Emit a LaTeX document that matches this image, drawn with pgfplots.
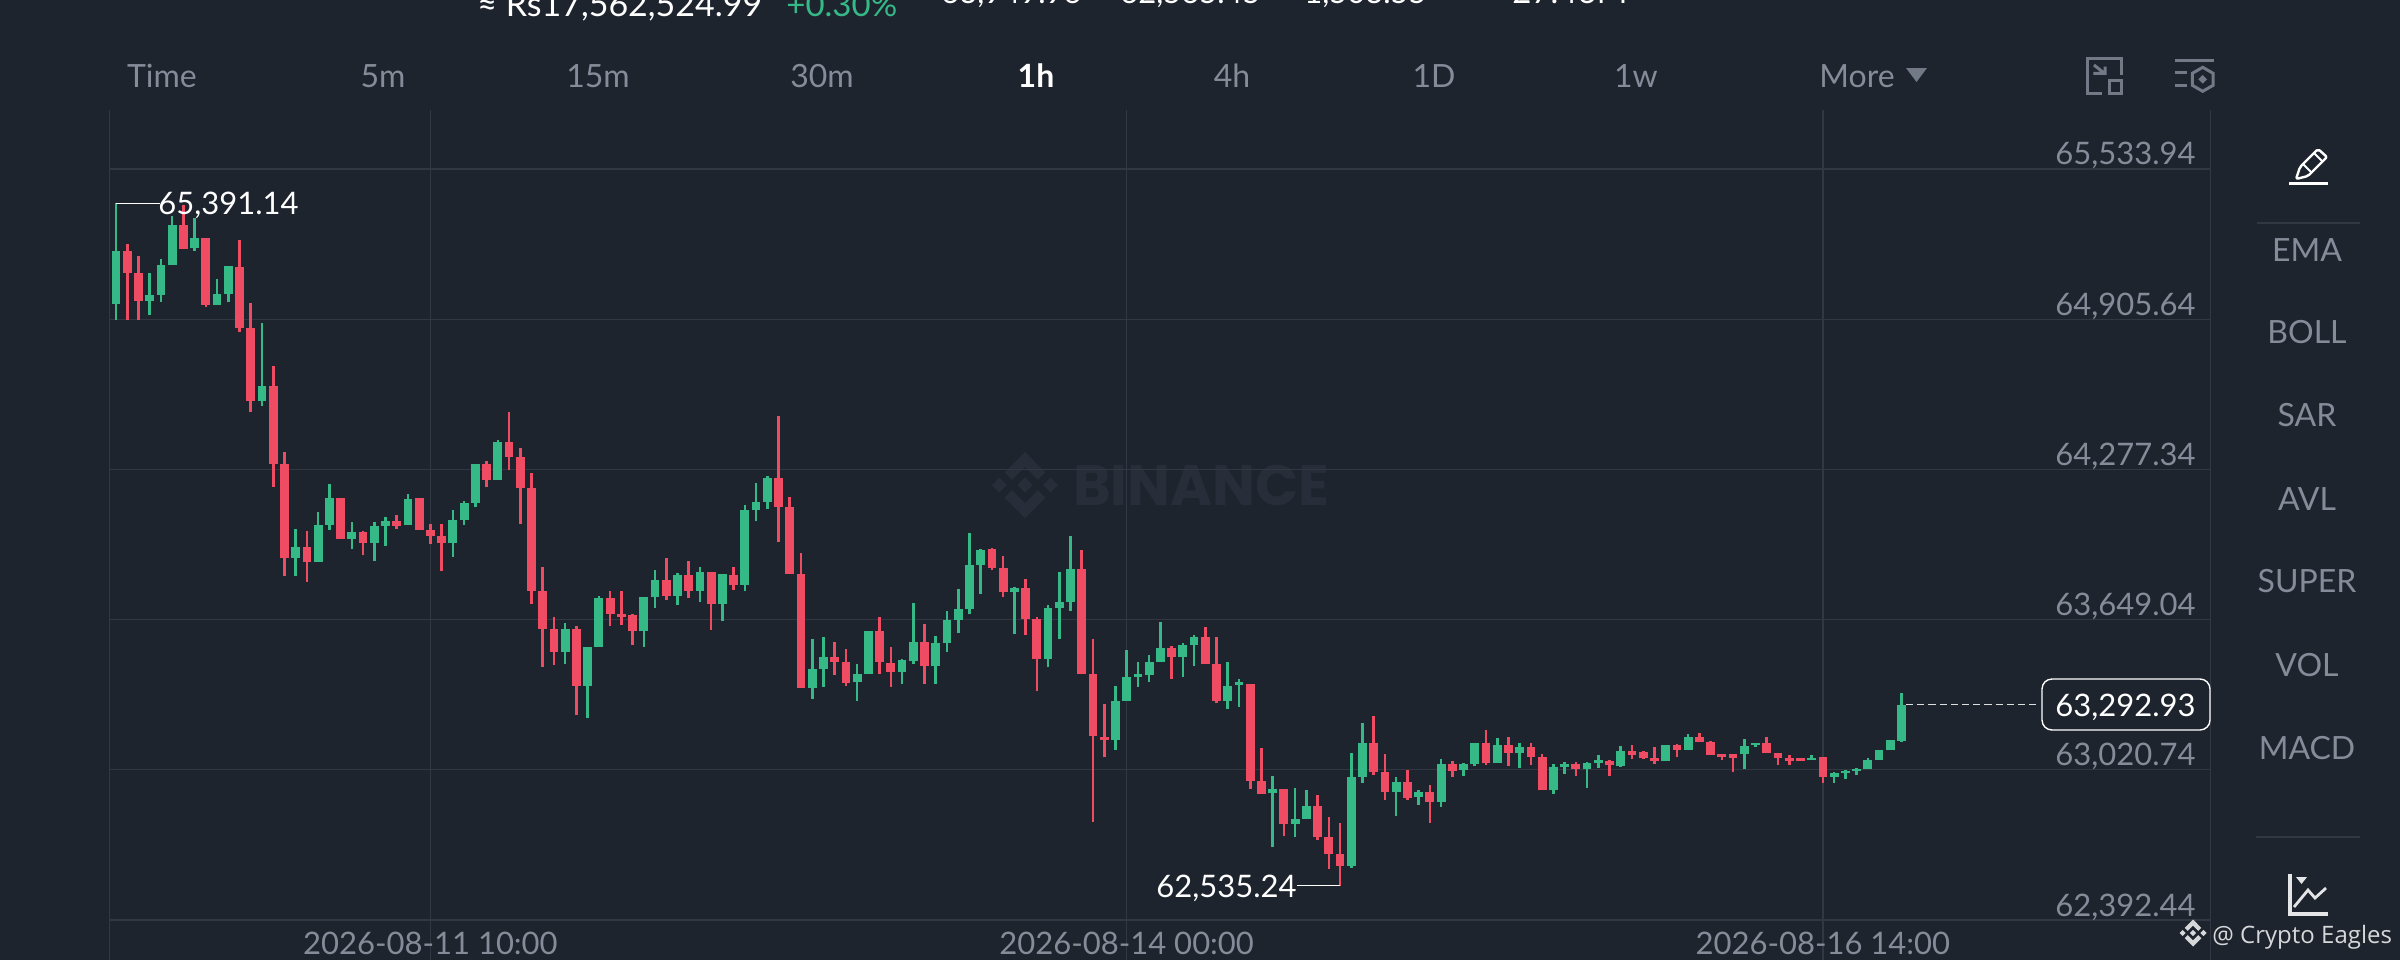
\documentclass[border=0pt]{standalone}
\usepackage{fontspec}
\usepackage{pgfplots}
\usepackage{pgfplotstable}
\pgfplotsset{compat=1.18}
\setmainfont{Lato}
\newfontfamily\tagfont{Open Sans}
\newfontfamily\wmfont{Poppins}
\definecolor{bg}{HTML}{1E242E}
\definecolor{gridc}{HTML}{323843}
\definecolor{gr}{HTML}{34B987}
\definecolor{rd}{HTML}{EF4B63}
\definecolor{txt}{HTML}{848C99}
\definecolor{ico}{HTML}{737A87}
\definecolor{wm}{HTML}{272E39}
\newcommand\fs[1]{\fontsize{#1}{#1}\selectfont}
% i open high low close
\pgfplotstableread{
i o h l c
0 64968 65391.14 64902 65191
3 64983 65100 64923 65007
4 65007 65157 64979 65134
5 65132 65337 65132 65300
7 65202 65329 65192 65244
9 64965 65075 64965 65012
10 65012 65128 64976 65128
13 64562 64888 64544 64626
16 63905 64027 63831 63951
18 63889 64101 63889 64045
19 64045 64215 64024 64156
21 63988 64056 63943 64017
23 63971 64056 63896 64041
24 64041 64080 63958 64063
26 64045 64174 64045 64155
30 63971 64108 63912 64066
31 64066 64147 64045 64138
32 64138 64300 64121 64300
34 64233 64400 64233 64391
40 63515 63633 63463 63610
42 63373 63536 63236 63536
43 63536 63748 63536 63741
47 63600 63745 63536 63744
48 63742 63856 63699 63813
50 63749 63845 63710 63836
52 63770 63868 63724 63849
54 63713 63838 63645 63838
56 63794 64130 63769 64109
57 64109 64219 64060 64141
58 64142 64250 64113 64240
62 63364 63569 63315 63441
63 63441 63578 63368 63493
66 63388 63463 63309 63420
67 63420 63600 63420 63600
70 63431 63483 63378 63480
71 63477 63717 63462 63557
73 63456 63582 63380 63550
74 63550 63686 63513 63647
75 63647 63778 63592 63693
76 63693 64010 63671 63877
77 63877 63943 63756 63942
80 63766 63787 63587 63783
83 63484 63709 63449 63699
84 63698 63850 63566 63724
85 63724 63999 63686 63859
89 63144 63370 63104 63310
90 63310 63520 63310 63407
91 63409 63473 63369 63420
92 63417 63500 63389 63473
93 63473 63640 63473 63529
95 63491 63552 63410 63541
96 63541 63586 63456 63578
99 63310 63470 63276 63371
100 63374 63399 63285 63387
103 62922 62996 62699 62939
105 62794 62945 62738 62815
106 62814 62936 62814 62869
110 62618 63090 62611 62991
111 62991 63215 62967 63133
114 62929 62992 62829 62968
116 62908 62936 62873 62929
118 62886 63066 62866 63045
120 63020 63051 62995 63045
121 63045 63134 63037 63134
123 63051 63152 63051 63123
125 63090 63134 63028 63116
128 62935 63045 62921 63031
129 63031 63052 63002 63046
131 63024 63055 62946 63051
132 63051 63081 63030 63062
134 63038 63120 63034 63101
138 63057 63126 63057 63126
140 63104 63170 63104 63159
145 63085 63151 63024 63122
146 63123 63134 63115 63134
151 63060 63081 63060 63071
153 62992 63011 62967 63006
154 63009 63020 62981 63017
155 63016 63027 62998 63024
156 63023 63069 63023 63062
157 63060 63104 63060 63102
158 63102 63145 63102 63145
159 63143 63341 63137 63292.93
}\up
\pgfplotstableread{
i o h l c
1 65191 65220 64902 65100
2 65100 65170 64902 64983
6 65300 65383 65198 65201
8 65247 65247 64958 64965
11 65125 65237 64851 64870
12 64870 64972 64516 64564
14 64626 64711 64205 64300
15 64300 64352 63831 63905
17 63951 64021 63805 63889
20 64159 64159 63988 63988
22 64016 64020 63918 63971
25 64063 64085 64030 64041
27 64156 64156 64024 64024
28 64024 64049 63965 64000
29 64000 64049 63852 63971
33 64300 64313 64202 64233
35 64391 64516 64275 64331
36 64331 64365 64049 64201
37 64201 64264 63714 63770
38 63770 63868 63452 63610
39 63610 63658 63459 63515
41 63608 63624 63250 63373
44 63738 63769 63622 63674
45 63672 63769 63626 63661
46 63668 63671 63543 63600
49 63813 63908 63731 63749
51 63836 63894 63741 63770
53 63849 63849 63605 63713
55 63837 63868 63773 63794
59 64240 64501 63975 64120
60 64120 64160 63840 63840
61 63840 63926 63364 63364
64 63493 63555 63416 63472
65 63472 63525 63373 63385
68 63601 63661 63421 63470
69 63469 63536 63368 63431
72 63557 63631 63381 63456
78 63943 63947 63855 63866
79 63865 63915 63742 63766
81 63783 63817 63585 63650
82 63650 63658 63349 63484
86 63859 63940 63420 63420
87 63420 63566 62801 63162
88 63159 63295 63073 63144
94 63530 63540 63401 63491
97 63575 63618 63465 63465
98 63465 63576 63302 63307
101 63380 63380 62940 62974
102 62974 63110 62919 62919
104 62939 62939 62744 62794
107 62869 62914 62727 62741
108 62741 62822 62604 62669
109 62669 62797 62535.24 62620
112 63133 63246 62999 63013
113 63013 63088 62894 62929
115 62968 63020 62894 62904
117 62929 62956 62800 62887
119 63045 63059 62992 63017
122 63134 63187 63041 63048
124 63123 63157 63038 63090
126 63116 63134 63041 63076
127 63076 63085 62935 62935
130 63046 63055 62996 63024
133 63059 63060 62996 63041
135 63101 63124 63064 63083
136 63097 63101 63064 63069
137 63071 63115 63044 63057
139 63126 63127 63076 63104
141 63159 63175 63136 63136
142 63136 63141 63084 63084
143 63085 63085 63062 63073
144 63085 63085 63011 63071
147 63131 63159 63090 63090
148 63091 63092 63039 63070
149 63070 63084 63042 63059
150 63070 63070 63056 63056
152 63073 63073 62967 62992
}\down
\newcommand\binlogo[4]{%
\begin{scope}[shift={(#1,#2)},x=#3,y=-#3,shift={(-63.3,-63.3)}]
\fill[#4] (38.73,53.2)--(63.3,28.63)--(87.9,53.22)--(102.2,38.92)--(63.3,0)--(24.42,38.9)--cycle;
\fill[#4] (0,63.31)--(14.3,49.01)--(28.6,63.31)--(14.3,77.61)--cycle;
\fill[#4] (38.73,73.41)--(63.3,97.98)--(87.9,73.39)--(102.2,87.69)--(63.3,126.61)--(24.42,87.72)--cycle;
\fill[#4] (98,63.31)--(112.3,49.01)--(126.6,63.31)--(112.3,77.61)--cycle;
\fill[#4] (77.82,63.3)--(63.3,48.78)--(48.78,63.3)--(63.3,77.81)--cycle;
\end{scope}}
\begin{document}
\begin{tikzpicture}[x=0.5pt,y=-0.5pt]
\clip (0,0) rectangle (2400,960);
\fill[bg] (0,0) rectangle (2400,960);
% watermark
\binlogo{1025}{485}{0.2607pt}{wm}
\node[anchor=west,inner sep=0,text=wm,font={\wmfont\bfseries\fs{28.5}}] at (1073,485) {BINANCE};
\begin{axis}[
  at={(54.65pt,-480pt)},anchor=south west,scale only axis,
  width=1050.7pt,height=425pt,
  xmin=-0.597,xmax=186.53,ymin=62225.12,ymax=65780.75,
  axis line style={draw=none},
  scaled y ticks=false,scaled x ticks=false,
  major tick length=0pt,tick style={draw=none},
  grid=major,major grid style={draw=gridc,line width=0.6pt},
  xtick={28,90,152},
  xticklabels={{2026-08-11 10:00},{2026-08-14 00:00},{2026-08-16 14:00}},
  xticklabel style={anchor=base,inner sep=0pt,yshift=3pt,text=txt,font=\fs{15.5}},
  ytick={62392.44,63020.74,63649.04,64277.34,64905.64,65533.94},
  yticklabels={{62,392.44},{63,020.74},{63,649.04},{64,277.34},{64,905.64},{65,533.94}},
  yticklabel pos=right,
  yticklabel style={anchor=base east,inner sep=0pt,xshift=-7.35pt,yshift=2pt,text=txt,font=\fs{15.5}},
]
% wicks
\addplot[draw=none,forget plot,error bars/.cd,y dir=plus,y explicit,error mark=none,error bar style={draw=gr,line width=1.3pt,solid}]
  table[x=i,y=l,y error plus expr=\thisrow{h}-\thisrow{l}] {\up};
\addplot[draw=none,forget plot,error bars/.cd,y dir=plus,y explicit,error mark=none,error bar style={draw=rd,line width=1.3pt,solid}]
  table[x=i,y=l,y error plus expr=\thisrow{h}-\thisrow{l}] {\down};
% bodies
\addplot[draw=none,forget plot,error bars/.cd,y dir=plus,y explicit,error mark=none,error bar style={draw=gr,line width=4.4pt,solid}]
  table[x=i,y=o,y error plus expr=\thisrow{c}-\thisrow{o}] {\up};
\addplot[draw=none,forget plot,error bars/.cd,y dir=plus,y explicit,error mark=none,error bar style={draw=rd,line width=4.4pt,solid}]
  table[x=i,y=c,y error plus expr=\thisrow{o}-\thisrow{c}] {\down};
% high / low connectors and last price
\addplot[white,line width=0.6pt,forget plot] coordinates {(0,65391.14)(3.9,65391.14)};
\addplot[white,line width=0.6pt,forget plot] coordinates {(109,62535.24)(105.2,62535.24)};
\addplot[color=white!85!bg,line width=0.7pt,dash pattern=on 3.6pt off 2pt,forget plot] coordinates {(159.4,63292.93)(171.3,63292.93)};
\end{axis}
% frame lines
\draw[gridc,line width=0.6pt] (109.3,110)--(109.3,960) (2210.7,110)--(2210.7,960);
% extreme labels
\node[anchor=base west,inner sep=0,white,font=\fs{15.5}] at (158,214) {65,391.14};
\node[anchor=base east,inner sep=0,white,font=\fs{15.5}] at (1297,897) {62,535.24};
% last price
\draw[white,line width=0.7pt,fill=bg,rounded corners=5pt] (2042,679) rectangle (2210,730);
\node[anchor=base east,inner sep=0,white,font=\fs{15.5}] at (2196,716) {63,292.93};
% clipped header
\node[anchor=base west,inner sep=0,white,font=\fs{17}] at (477,16) {≈ Rs17,562,524.99};
\node[anchor=base west,inner sep=0,gr,font=\fs{16.5}] at (786,16) {+0.30\%};
\node[anchor=base west,inner sep=0,white,font=\fs{15.5}] at (941,3.5) {63,949.96};
\node[anchor=base west,inner sep=0,white,font=\fs{15.5}] at (1120,3.5) {62,565.45};
\node[anchor=base west,inner sep=0,white,font=\fs{15.5}] at (1304,3.5) {1,503.55};
\node[anchor=base west,inner sep=0,white,font=\fs{16.5}] at (1512,3.5) {27.46M};
% toolbar
\foreach \xx/\tt in {162/Time,383/5m,598/15m,822/30m,1232/4h,1434/1D,1636/1w,1857/More}
  \node[anchor=base,inner sep=0,text=txt,font=\fs{16}] at (\xx,87) {\tt};
\node[anchor=base,inner sep=0,white,font=\bfseries\fs{16}] at (1036,87) {1h};
\fill[ico] (1906,68)--(1927,68)--(1916.5,82)--cycle;
% icon: screen
\draw[ico,line width=1.5pt] (2102,93)--(2087.3,93)--(2087.3,58.3)--(2121.7,58.3)--(2121.7,75);
\draw[ico,line width=1.5pt] (2109.3,80.7) rectangle (2121.7,93.3);
\draw[ico,line width=1.5pt] (2094,65)--(2104,73) (2093.3,73.3)--(2105,73.3)--(2105,66.7);
% icon: settings
\draw[ico,line width=1.5pt] (2175,60)--(2214,60) (2175,72.7)--(2186.7,72.7) (2175,85)--(2186.7,85);
\draw[ico,line width=1.5pt] (2202.7,67.3)--(2213.1,73.3)--(2213.1,85.3)--(2202.7,91.3)--(2192.3,85.3)--(2192.3,73.3)--cycle;
\fill[ico] (2202.7,75)--(2207,79.3)--(2202.7,83.6)--(2198.4,79.3)--cycle;
% side panel
\draw[gridc,line width=0.6pt] (2257,223)--(2360,223) (2256,837)--(2360,837);
\foreach \yy/\tt in {250/EMA,332/BOLL,415/SAR,499/AVL,581/SUPER,665/VOL,748/MACD}
  \node[anchor=center,inner sep=0,text=txt,font=\fs{16}] at (2307,\yy) {\tt};
% pencil
\draw[white,line width=1.2pt,rounded corners=1pt,line join=round] (2296,179)--(2300,167)--(2318,149)--(2327,157)--(2308,176)--cycle;
\draw[white,line width=1pt] (2303,164)--(2311,172) (2314,153)--(2322,161);
\draw[white,line width=1.8pt] (2289,183.3)--(2328,183.3);
% chart icon
\draw[white!88!bg,line width=1.7pt] (2290,874)--(2290,914)--(2328,914);
\fill[white!88!bg] (2296,877)--(2307,877)--(2301.5,884)--cycle;
\draw[white!88!bg,line width=1.4pt] (2294,907)--(2308,890)--(2315,898)--(2326,888);
% source tag
\binlogo{2193}{933}{0.1066pt}{white!82!bg}
\node[anchor=base west,inner sep=0,text=white!82!bg,font={\tagfont\fs{12}}] at (2212,943) {@ Crypto Eagles};
\end{tikzpicture}
\end{document}
